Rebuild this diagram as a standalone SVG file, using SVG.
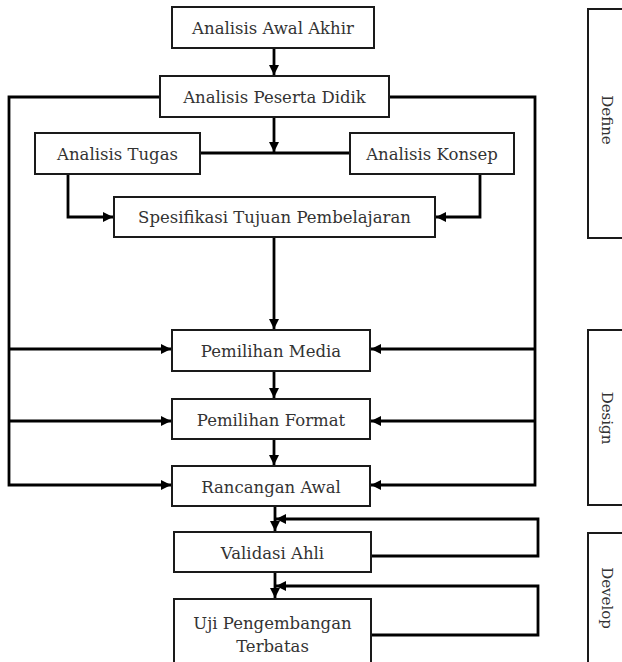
<svg xmlns="http://www.w3.org/2000/svg" width="622" height="662" viewBox="0 0 622 662">
<defs>
<marker id="ah" viewBox="0 0 10 10" refX="10" refY="5" markerWidth="11" markerHeight="10" markerUnits="userSpaceOnUse" orient="auto">
<path d="M0,0 L10,5 L0,10 Z" fill="#000"/>
</marker>
<style>
.box{fill:#fff;stroke:#1a1a1a;stroke-width:2}
.lbl{font-family:"DejaVu Serif","Liberation Serif",serif;font-size:16.5px;fill:#333;text-anchor:middle;dominant-baseline:central}
.ph{font-size:15px}
.con{fill:none;stroke:#000;stroke-width:2.8}
.arr{marker-end:url(#ah)}
</style>
</defs>
<rect width="622" height="662" fill="#fff"/>
<g id="connectors">
<path class="con arr" d="M274,48 V75"/>
<path class="con arr" d="M160,97 H9 V485 H171"/>
<path class="con arr" d="M9,349 H171"/>
<path class="con arr" d="M9,421 H171"/>
<path class="con arr" d="M389,97 H535 V485 H371"/>
<path class="con arr" d="M535,349 H371"/>
<path class="con arr" d="M535,421 H371"/>
<path class="con arr" d="M274,117 V152"/>
<path class="con" d="M200,153 H350"/>
<path class="con arr" d="M68,174 V217 H113"/>
<path class="con arr" d="M480,174 V217 H436"/>
<path class="con arr" d="M274,237 V329"/>
<path class="con arr" d="M274,371 V398"/>
<path class="con arr" d="M274,439 V465"/>
<path class="con arr" d="M275,506 V531"/>
<path class="con arr" d="M371,556 H538 V519 H276"/>
<path class="con arr" d="M275,572 V598"/>
<path class="con arr" d="M371,635 H538 V586 H276"/>
</g>
<g id="n1"><rect class="box" x="172" y="7" width="202" height="41"/><text class="lbl" x="273" y="28">Analisis Awal Akhir</text></g>
<g id="n2"><rect class="box" x="160" y="76" width="229" height="41"/><text class="lbl" x="274.5" y="97">Analisis Peserta Didik</text></g>
<g id="n3"><rect class="box" x="35" y="133" width="165" height="41"/><text class="lbl" x="117.5" y="154">Analisis Tugas</text></g>
<g id="n4"><rect class="box" x="350" y="133" width="164" height="41"/><text class="lbl" x="432" y="154">Analisis Konsep</text></g>
<g id="n5"><rect class="box" x="114" y="197" width="321" height="40"/><text class="lbl" x="274.5" y="217">Spesifikasi Tujuan Pembelajaran</text></g>
<g id="n6"><rect class="box" x="172" y="330" width="198" height="41"/><text class="lbl" x="271" y="351">Pemilihan Media</text></g>
<g id="n7"><rect class="box" x="172" y="399" width="198" height="40"/><text class="lbl" x="271" y="420">Pemilihan Format</text></g>
<g id="n8"><rect class="box" x="172" y="466" width="198" height="40"/><text class="lbl" x="271" y="487">Rancangan Awal</text></g>
<g id="n9"><rect class="box" x="174" y="532" width="197" height="40"/><text class="lbl" x="272.5" y="553">Validasi Ahli</text></g>
<g id="n10"><rect class="box" x="174" y="599" width="197" height="80"/><text class="lbl" x="272.5" y="623">Uji Pengembangan</text><text class="lbl" x="272.5" y="646">Terbatas</text></g>
<g id="define"><rect class="box" x="588" y="9" width="60" height="229"/><text class="lbl ph" transform="translate(607,120) rotate(90)">Define</text></g>
<g id="design"><rect class="box" x="588" y="330" width="60" height="175"/><text class="lbl ph" transform="translate(607,418) rotate(90)">Design</text></g>
<g id="develop"><rect class="box" x="588" y="533" width="60" height="150"/><text class="lbl ph" transform="translate(607,598) rotate(90)">Develop</text></g>
</svg>
